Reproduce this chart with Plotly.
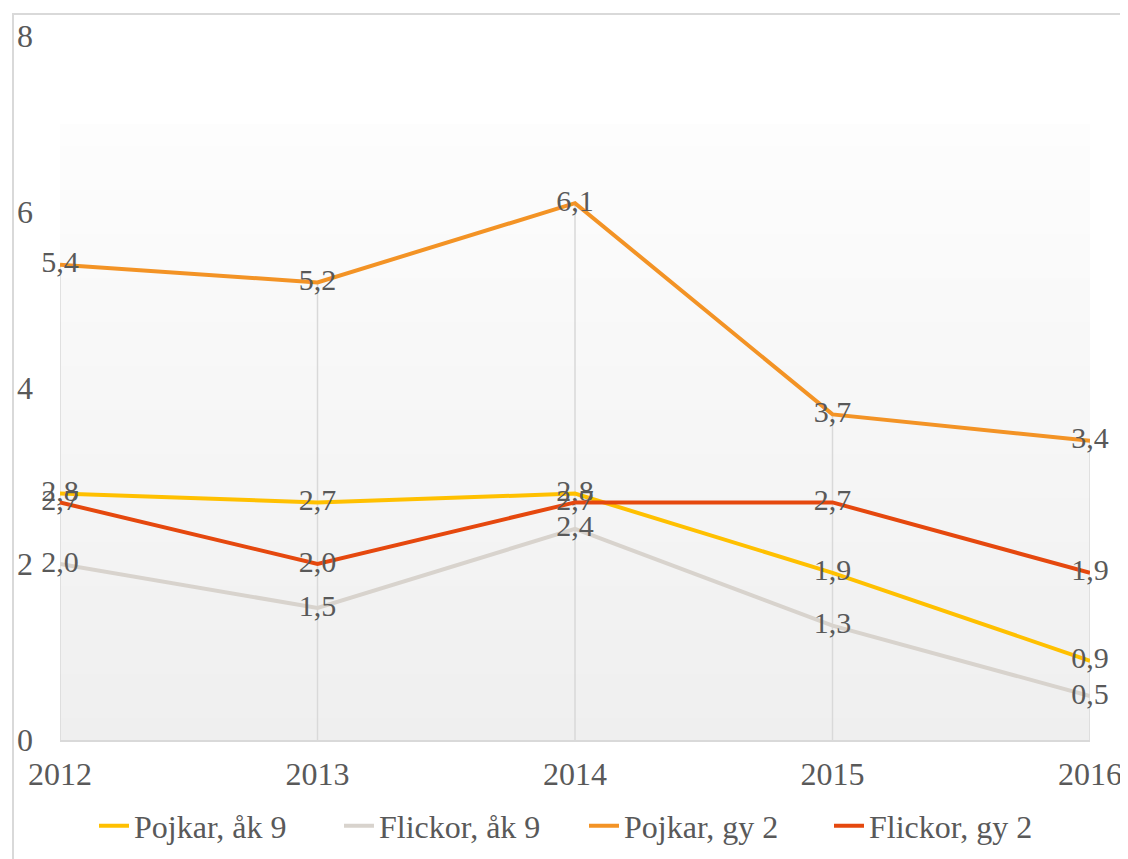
import numpy as np
import plotly.graph_objects as go

years = [2012, 2013, 2014, 2015, 2016]
series_names = ["Pojkar, åk 9", "Flickor, åk 9", "Pojkar, gy 2", "Flickor, gy 2"]
pojkar_ak9 = [2.8, 2.7, 2.8, 1.9, 0.9]
flickor_ak9 = [2.0, 1.5, 2.4, 1.3, 0.5]
pojkar_gy2 = [5.4, 5.2, 6.1, 3.7, 3.4]
flickor_gy2 = [2.7, 2.0, 2.7, 2.7, 1.9]
y_ticks = [0, 2, 4, 6, 8]

colors = ["#FFC000", "#D8D3CD", "#F39325", "#E5480E"]
series = [pojkar_ak9, flickor_ak9, pojkar_gy2, flickor_gy2]

FONT = "Liberation Serif"
TXT = "#595959"
OFF = 8  # browser body margin
W, H = 1128 - OFF, 859 - OFF
# plot area in screen pixels
PX0, PX1, PY0, PY1 = 60, 1090, 36, 740
L, R, T, B = PX0 - OFF, W - (PX1 - OFF), PY0 - OFF, H - (PY1 - OFF)
pw, ph = PX1 - PX0, PY1 - PY0

fig = go.Figure()

# gradient plot-area background (white at top -> light grey at bottom)
n = 140
ys = np.arange(n) * 0.05 + 0.025
fig.add_trace(go.Heatmap(
    x=[years[0], years[-1]], y=ys,
    z=[[v, v] for v in ys],
    colorscale=[[0, "#efefef"], [1, "#fdfdfd"]],
    showscale=False, hoverinfo="skip", zsmooth=False,
))

# drop lines from highest value down to zero
dx, dy = [], []
for i, yr in enumerate(years):
    top = max(s[i] for s in series)
    dx += [yr, yr, None]
    dy += [0, top, None]
fig.add_trace(go.Scatter(x=dx, y=dy, mode="lines",
                         line=dict(color="#d9d9d9", width=1.5),
                         showlegend=False, hoverinfo="skip"))

for name, vals, col in zip(series_names, series, colors):
    fig.add_trace(go.Scatter(
        x=years, y=vals, name=name, mode="lines+text",
        line=dict(color=col, width=4),
        text=[f"{v:.1f}".replace(".", ",") for v in vals],
        textposition="middle center",
        textfont=dict(family=FONT, size=30, color=TXT),
        cliponaxis=False,
    ))

def px_x(p):
    return (p - PX0) / pw

def px_y(p):
    return (PY1 - p) / ph

fig.update_layout(
    width=W, height=H,
    margin=dict(l=L, r=R, t=T, b=B, autoexpand=False),
    paper_bgcolor="white", plot_bgcolor="white",
    font=dict(family=FONT, size=30, color=TXT),
    showlegend=True,
    legend=dict(orientation="h", x=0.5 + 9 / pw, xanchor="center",
                y=px_y(826), yanchor="middle",
                entrywidth=200,
                font=dict(family=FONT, size=32, color=TXT),
                bgcolor="rgba(0,0,0,0)"),
    xaxis=dict(range=[years[0], years[-1]], tickvals=years,
               ticktext=[str(y) for y in years],
               showgrid=False, zeroline=False, showline=True,
               linecolor="#d9d9d9", linewidth=1.5, ticks="",
               ticklabelstandoff=5, automargin=False,
               tickfont=dict(family=FONT, size=32, color=TXT)),
    yaxis=dict(range=[0, 8], tickvals=y_ticks,
               ticktext=[str(t) for t in y_ticks],
               showgrid=False, zeroline=False, showline=False, ticks="",
               ticklabelstandoff=26, automargin=False,
               tickfont=dict(family=FONT, size=32, color=TXT)),
    shapes=[dict(type="rect", xref="paper", yref="paper",
                 x0=px_x(13), x1=px_x(1140), y0=px_y(14), y1=px_y(870),
                 line=dict(color="#d9d9d9", width=2), fillcolor="rgba(0,0,0,0)",
                 layer="below")],
)

fig.write_html("out.html")
